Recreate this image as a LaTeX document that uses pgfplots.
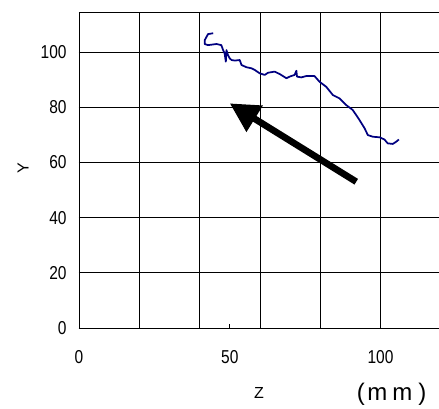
\documentclass[border=0pt]{standalone}
\usepackage{fontspec}
\setmainfont{Liberation Sans}
\newfontfamily\narrowfont[FakeStretch=0.83]{Liberation Sans}
\usepackage{pgfplots}
\pgfplotsset{compat=1.18}
\usetikzlibrary{arrows.meta}
\definecolor{navy}{RGB}{0,0,128}
\begin{document}
\begin{tikzpicture}
\begin{axis}[
  scale only axis, width=270pt, height=237pt,
  xmin=0, xmax=119.4, ymin=0, ymax=114.5,
  axis y line*=left,
  xtick={0,50,100}, ytick={0,20,...,100},
  minor xtick={20,40,60,80,100},
  xminorgrids=true, ymajorgrids=true, xmajorgrids=false,
  minor tick length=0pt,
  tick align=inside, major tick length=3pt, tick pos=left,
  grid style={black, line width=0.6pt},
  minor grid style={black, line width=0.6pt},
  axis line style={line width=0.6pt},
  tick style={black, line width=0.6pt},
  clip=false,
  /pgf/number format/assume math mode=true,
  yticklabel style={font=\narrowfont\fontsize{14}{14}\selectfont, xshift=-5.8pt},
  xticklabel style={font=\narrowfont\fontsize{14}{14}\selectfont, yshift=-13.3pt},
]
\addplot[color=navy, line width=1.3pt, line join=round] coordinates {
(44.5,106.8) (42.8,106.5) (41.7,104.3) (41.7,102.9) (42.8,102.5) (45.6,102.9)
(47.2,102.5) (47.8,100.7) (48.3,99.5) (48.7,96.5) (48.9,100.7) (49.4,98.9)
(50.0,97.7) (50.6,97.1) (51.7,96.9) (53.3,97.1) (53.9,95.3) (55.5,94.5)
(57.2,94.1) (58.3,93.5) (59.9,92.3) (61.6,91.7) (62.7,92.5) (64.9,92.9)
(66.6,92.0) (68.8,90.5) (69.9,91.1) (71.5,91.7) (72.1,93.2) (72.3,91.1)
(73.7,90.8) (75.4,91.3) (78.1,91.3) (79.8,89.2) (82.0,87.4) (84.2,84.4)
(86.4,83.2) (88.6,80.8) (90.8,79.0) (93.0,75.4) (94.7,72.4) (95.8,69.9)
(97.5,69.3) (99.7,69.1) (101.3,68.3) (102.4,66.9) (104.1,66.7) (105.2,67.5)
(106.1,68.3)
};
\draw[line width=5pt, -{Triangle[length=22pt,width=22pt]}] (axis cs:91.95,53.0) -- (axis cs:50.0,81.4);
\coordinate (O) at (axis cs:0,0);
\end{axis}
\node[font=\fontsize{12}{12}\selectfont, rotate=90] at ([shift={(-42pt,120pt)}]O) {Y};
\node[font=\fontsize{12}{12}\selectfont] at ([shift={(135pt,-48.75pt)}]O) {Z};
\node[font=\fontsize{18}{18}\selectfont, inner sep=0pt] at ([shift={(234.4pt,-50pt)}]O) {(\kern2pt m\kern3.7pt m\kern4.5pt)};
\pgfresetboundingbox
\path[use as bounding box] ([shift={(-59.25pt,-60pt)}]O) rectangle ([shift={(270pt,246pt)}]O);
\end{tikzpicture}
\end{document}
